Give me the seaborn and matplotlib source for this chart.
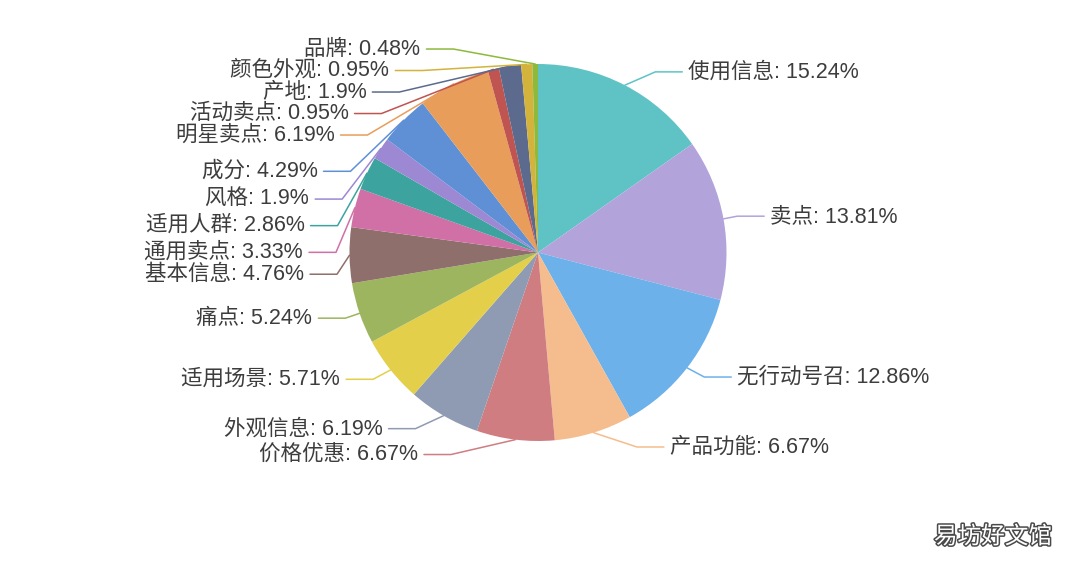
import numpy as np
import matplotlib
matplotlib.use("Agg")
import matplotlib.pyplot as plt
import matplotlib.patheffects as pe
import seaborn as sns

labels = ["使用信息", "卖点", "无行动号召", "产品功能", "价格优惠", "外观信息", "适用场景",
          "痛点", "基本信息", "通用卖点", "适用人群", "风格", "成分", "明星卖点",
          "活动卖点", "产地", "颜色外观", "品牌"]
shares = [15.24, 13.81, 12.86, 6.67, 6.67, 6.19, 5.71, 5.24, 4.76, 3.33,
          2.86, 1.9, 4.29, 6.19, 0.95, 1.9, 0.95, 0.48]
colors = ["#5fc3c6", "#b3a3db", "#6db1ea", "#f5bd8d", "#cf7d80", "#8f9bb3", "#e3cf4a",
          "#9db55e", "#8e6f6b", "#d170a6", "#3da39f", "#9c88d3", "#5f90d6", "#e89d5a",
          "#bf5450", "#5b6a8d", "#d4b33d", "#8db93c"]

# layout in screen pixels (y down)
W, H = 1080, 568
cx, cy, r = 538, 252.5, 188.5
len1 = 15          # radial part of the leader line
R_text = 235       # radius where label text starts
gap, len2 = 6, 27  # text gap and horizontal leader
h = 21.5           # label height used for overlap

sns.set_theme(style="white")
plt.rcParams["font.family"] = ["Liberation Sans", "Noto Sans CJK SC", "DejaVu Sans"]

fig = plt.figure(figsize=(W / 100, H / 100), dpi=100)
ax = fig.add_axes([0, 0, 1, 1])
ax.pie(shares, colors=colors, center=(cx, H - cy), radius=r, startangle=90,
       counterclock=False, wedgeprops=dict(linewidth=0))
ax.set_xlim(0, W)
ax.set_ylim(0, H)
ax.set_aspect("equal")
ax.axis("off")

# label placement (echarts 4 style)
cum = np.cumsum([0] + shares[:-1])
mids = (cum + np.array(shares) / 2) / 100 * 2 * np.pi
items = []
for lab, val, col, a in zip(labels, shares, colors, mids):
    sx, sy = np.sin(a), -np.cos(a)
    items.append(dict(text=f"{lab}: {val:g}%", color=col,
                      x0=cx + r * sx, y0=cy + r * sy,
                      y=cy + (r + len1) * sy, dx0=abs((r + len1) * sx) + len2,
                      dir=1 if sx >= 0 else -1))


def adjust(side):
    side.sort(key=lambda it: it["y"])
    n = len(side)

    def shift_up(end, delta):
        for j in range(end, -1, -1):
            if side[j]["y"] - delta < 0:
                break
            side[j]["y"] -= delta
            if j > 0 and side[j]["y"] > side[j - 1]["y"] + h:
                break

    def shift_down(start, end, delta):
        for j in range(start, end):
            if side[j]["y"] + delta > H:
                break
            side[j]["y"] += delta
            if j > start and j + 1 < end and side[j + 1]["y"] > side[j]["y"] + h:
                shift_up(j, delta / 2)
                return
        shift_up(end - 1, delta / 2)

    last = 0
    for i in range(n):
        d = side[i]["y"] - last
        if d < 0:
            shift_down(i, n, -d)
        last = side[i]["y"] + h
    if H - last < 0:
        shift_up(n - 1, last - H)

    up = [it for it in side if it["y"] < cy]
    down = [it for it in side if it["y"] >= cy]
    for group, is_down in ((up, False), (down, True)):
        last_dx = np.inf if is_down else 0
        for it in group:
            dy = abs(it["y"] - cy)
            dx = np.sqrt(R_text ** 2 - dy ** 2) if dy < r + len1 else it["dx0"]
            if is_down and dx >= last_dx:
                dx = last_dx - 10
            if not is_down and dx <= last_dx:
                dx = last_dx + 10
            it["dx"] = dx
            last_dx = dx


adjust([it for it in items if it["dir"] < 0])
adjust([it for it in items if it["dir"] > 0])

for it in items:
    d = it["dir"]
    tx = cx + d * it["dx"]
    x_end = tx - d * gap
    x_elb = x_end - d * len2
    ys = [H - it["y0"], H - it["y"], H - it["y"]]
    ax.plot([it["x0"], x_elb, x_end], ys, color=it["color"], lw=1.1,
            solid_joinstyle="round")
    ax.text(tx, H - it["y"], it["text"], ha="left" if d > 0 else "right",
            va="center", fontsize=15.5, color="#3d3d3d")

ax.text(993, H - 537, "易坊好文馆", ha="center", va="center", fontsize=17,
        color="white", family=["Noto Sans CJK SC"],
        path_effects=[pe.withStroke(linewidth=2.2, foreground="#4a4a4a")])

fig.savefig("out.png", dpi=100, facecolor="white")
